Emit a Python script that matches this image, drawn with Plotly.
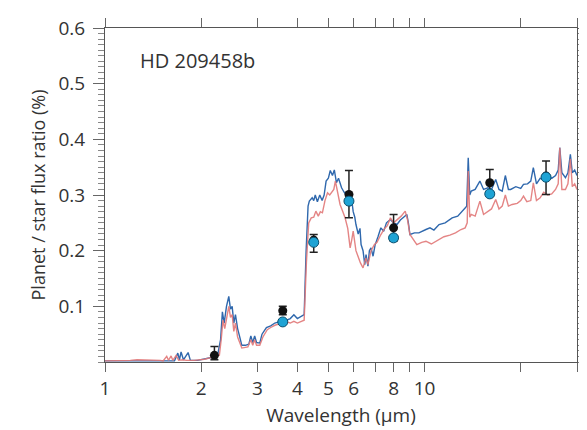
import plotly.graph_objects as go

# Model spectra (wavelength in micron, planet/star flux ratio in %)
blue_wl = [1.0, 1.2, 1.4, 1.55, 1.6, 1.65, 1.69, 1.71, 1.73, 1.76, 1.82, 1.85, 1.95, 2.05, 2.15, 2.2, 2.25,
           2.3, 2.33, 2.36, 2.4, 2.44, 2.47, 2.5, 2.53, 2.56, 2.6, 2.64, 2.68, 2.75, 2.82, 2.86, 2.9, 2.94,
           2.98, 3.05, 3.1, 3.2, 3.3, 3.4, 3.5, 3.6, 3.7, 3.8, 3.9, 4.0, 4.1, 4.2, 4.26, 4.32, 4.36, 4.45,
           4.5, 4.55, 4.62, 4.7, 4.78, 4.85, 4.92, 5.0, 5.07, 5.15, 5.22, 5.3, 5.38, 5.5, 5.6, 5.7, 5.78,
           5.85, 5.92, 5.98, 6.05, 6.1, 6.2, 6.28, 6.33, 6.42, 6.5, 6.56, 6.65, 6.72, 6.8, 6.9, 7.0, 7.15,
           7.3, 7.45, 7.6, 7.82, 8.0, 8.2, 8.4, 8.6, 8.8, 8.9, 9.0, 9.3, 9.6, 10.1, 10.4, 10.7, 11.1, 11.6,
           12.2, 12.7, 13.3, 13.55, 13.7, 13.85, 14.0, 14.4, 14.9, 15.3, 15.8, 16.2, 16.7, 17.1, 17.5, 17.9,
           18.3, 18.6, 19.3, 20.0, 20.4, 21.0, 21.5, 21.9, 22.4, 23.0, 23.6, 24.3, 25.0, 25.7, 26.2, 26.5,
           26.9, 27.6, 28.1, 28.6, 29.0, 29.5, 30.0]
blue_val = [0.002, 0.002, 0.002, 0.002, 0.003, 0.002, 0.016, 0.004, 0.018, 0.004, 0.017, 0.003, 0.003, 0.005,
            0.008, 0.010, 0.012, 0.040, 0.090, 0.070, 0.100, 0.118, 0.095, 0.100, 0.070, 0.085, 0.060, 0.045,
            0.030, 0.030, 0.032, 0.047, 0.035, 0.047, 0.035, 0.034, 0.050, 0.062, 0.065, 0.070, 0.072, 0.076,
            0.075, 0.078, 0.085, 0.078, 0.082, 0.085, 0.200, 0.280, 0.289, 0.295, 0.290, 0.300, 0.288, 0.300,
            0.290, 0.300, 0.325, 0.330, 0.344, 0.335, 0.345, 0.322, 0.330, 0.313, 0.305, 0.300, 0.295, 0.280,
            0.290, 0.270, 0.260, 0.247, 0.230, 0.240, 0.211, 0.200, 0.175, 0.193, 0.172, 0.200, 0.205, 0.190,
            0.210, 0.225, 0.241, 0.235, 0.250, 0.256, 0.250, 0.247, 0.255, 0.260, 0.265, 0.250, 0.229, 0.232,
            0.232, 0.238, 0.241, 0.237, 0.247, 0.250, 0.259, 0.262, 0.274, 0.280, 0.367, 0.300, 0.307, 0.310,
            0.325, 0.310, 0.313, 0.310, 0.328, 0.310, 0.307, 0.335, 0.310, 0.310, 0.315, 0.312, 0.319, 0.320,
            0.325, 0.349, 0.320, 0.330, 0.328, 0.335, 0.330, 0.335, 0.345, 0.385, 0.340, 0.331, 0.340, 0.373,
            0.340, 0.345, 0.335]

red_wl = [1.0, 1.15, 1.2, 1.26, 1.4, 1.49, 1.52, 1.56, 1.58, 1.61, 1.63, 1.67, 1.7, 1.75, 1.8, 1.9, 2.05,
          2.2, 2.28, 2.31, 2.34, 2.37, 2.41, 2.44, 2.47, 2.5, 2.53, 2.56, 2.6, 2.64, 2.68, 2.8, 2.86, 2.9,
          2.94, 2.98, 3.05, 3.12, 3.22, 3.3, 3.4, 3.5, 3.6, 3.7, 3.8, 3.9, 4.0, 4.1, 4.2, 4.27, 4.34, 4.42,
          4.5, 4.57, 4.65, 4.72, 4.79, 4.88, 4.97, 5.05, 5.14, 5.2, 5.26, 5.35, 5.44, 5.55, 5.64, 5.75, 5.85,
          5.92, 5.98, 6.1, 6.2, 6.3, 6.42, 6.55, 6.65, 6.8, 6.97, 7.1, 7.3, 7.5, 7.65, 7.82, 8.0, 8.2, 8.45,
          8.7, 8.85, 9.0, 9.2, 9.46, 9.8, 10.1, 10.5, 11.0, 11.5, 12.0, 12.5, 13.0, 13.4, 13.6, 13.7, 13.85,
          14.0, 14.4, 14.9, 15.3, 15.8, 16.2, 16.7, 17.1, 17.5, 17.9, 18.3, 18.8, 19.5, 20.0, 20.4, 20.9,
          21.5, 21.9, 22.4, 23.0, 23.6, 24.3, 25.0, 25.7, 26.2, 26.5, 26.9, 27.6, 28.1, 28.6, 29.0, 29.5, 30.0]
red_val = [0.002, 0.002, 0.003, 0.004, 0.004, 0.003, 0.002, 0.010, 0.003, 0.011, 0.003, 0.012, 0.003, 0.004,
           0.003, 0.003, 0.005, 0.009, 0.012, 0.040, 0.075, 0.060, 0.085, 0.100, 0.080, 0.085, 0.055, 0.070,
           0.045, 0.035, 0.025, 0.027, 0.040, 0.030, 0.040, 0.030, 0.030, 0.045, 0.058, 0.062, 0.066, 0.068,
           0.070, 0.072, 0.070, 0.073, 0.070, 0.072, 0.075, 0.180, 0.250, 0.259, 0.260, 0.271, 0.262, 0.270,
           0.268, 0.290, 0.304, 0.300, 0.307, 0.310, 0.325, 0.300, 0.283, 0.270, 0.259, 0.240, 0.205, 0.220,
           0.235, 0.200, 0.187, 0.178, 0.169, 0.187, 0.175, 0.200, 0.211, 0.215, 0.229, 0.240, 0.245, 0.259,
           0.250, 0.255, 0.262, 0.271, 0.255, 0.229, 0.220, 0.211, 0.215, 0.217, 0.212, 0.218, 0.225, 0.228,
           0.232, 0.238, 0.241, 0.250, 0.343, 0.260, 0.265, 0.262, 0.289, 0.265, 0.270, 0.275, 0.292, 0.275,
           0.280, 0.300, 0.280, 0.283, 0.285, 0.290, 0.298, 0.288, 0.290, 0.322, 0.290, 0.295, 0.305, 0.300,
           0.302, 0.310, 0.320, 0.385, 0.310, 0.310, 0.320, 0.365, 0.315, 0.320, 0.310]

# Observations (black: measured with error bars; cyan: model band-averaged)
obs_wl = [2.2, 3.6, 4.5, 5.8, 8.0, 16.0, 24.0]
obs_val = [0.012, 0.092, 0.219, 0.301, 0.241, 0.322, 0.334]
obs_err_plus = [0.016, 0.008, 0.010, 0.043, 0.024, 0.024, 0.027]
obs_err_minus = [0.008, 0.007, 0.022, 0.042, 0.024, 0.018, 0.033]
band_wl = [3.6, 4.5, 5.8, 8.0, 16.0, 24.0]
band_val = [0.072, 0.215, 0.289, 0.223, 0.302, 0.332]

x_tickvals = [1, 2, 3, 4, 5, 6, 7, 8, 9, 10, 20, 30]
x_ticktext = ["1", "2", "3", "4", "5", "6", "", "8", "", "10", "", ""]
y_tickvals = [0.1, 0.2, 0.3, 0.4, 0.5, 0.6]
y_ticktext = ["0.1", "0.2", "0.3", "0.4", "0.5", "0.6"]

FONT = "Open Sans"
TXT = "#333333"

fig = go.Figure()
fig.add_trace(go.Scatter(x=blue_wl, y=blue_val, mode="lines",
                         line=dict(color="#2f68ad", width=1.4), showlegend=False))
fig.add_trace(go.Scatter(x=red_wl, y=red_val, mode="lines",
                         line=dict(color="#e27878", width=1.4), opacity=0.9, showlegend=False))
fig.add_trace(go.Scatter(x=obs_wl, y=obs_val, mode="markers",
                         marker=dict(color="#111111", size=9),
                         error_y=dict(type="data", symmetric=False, array=obs_err_plus,
                                      arrayminus=obs_err_minus, color="#222222", thickness=1.5, width=4),
                         showlegend=False))
fig.add_trace(go.Scatter(x=band_wl, y=band_val, mode="markers",
                         marker=dict(color="#1fa3d4", size=10, line=dict(color="#0b4f6e", width=1)),
                         showlegend=False))

fig.add_annotation(text="HD 209458b", x=0.07, y=0.904, xref="paper", yref="paper",
                   xanchor="left", yanchor="middle", showarrow=False,
                   font=dict(family=FONT, size=20, color=TXT))

fig.update_xaxes(type="log", range=[0, 1.4771], tickvals=x_tickvals, ticktext=x_ticktext,
                 ticks="outside", ticklen=9, tickwidth=1, tickcolor="#666666",
                 showline=True, linecolor="#555555", linewidth=1.2, mirror="ticks",
                 showgrid=False, zeroline=False,
                 tickfont=dict(family=FONT, size=19, color=TXT),
                 title=dict(text="Wavelength (µm)", font=dict(family=FONT, size=19, color=TXT), standoff=8))
fig.update_yaxes(range=[0, 0.6], tickvals=y_tickvals, ticktext=y_ticktext,
                 ticks="outside", ticklen=11, tickwidth=1, tickcolor="#666666",
                 ticklabelstandoff=4,
                 minor=dict(dtick=0.01, ticks="outside", ticklen=6, tickcolor="#888888", tickwidth=1),
                 showline=True, linecolor="#555555", linewidth=1.2, mirror="ticks",
                 showgrid=False, zeroline=False,
                 tickfont=dict(family=FONT, size=19, color=TXT),
                 title=dict(text="Planet / star flux ratio (%)", font=dict(family=FONT, size=18, color=TXT),
                            standoff=8))

fig.update_layout(width=587, height=430, margin=dict(l=97, r=6, t=20, b=76),
                  paper_bgcolor="white", plot_bgcolor="white")

fig.write_html("out.html")
